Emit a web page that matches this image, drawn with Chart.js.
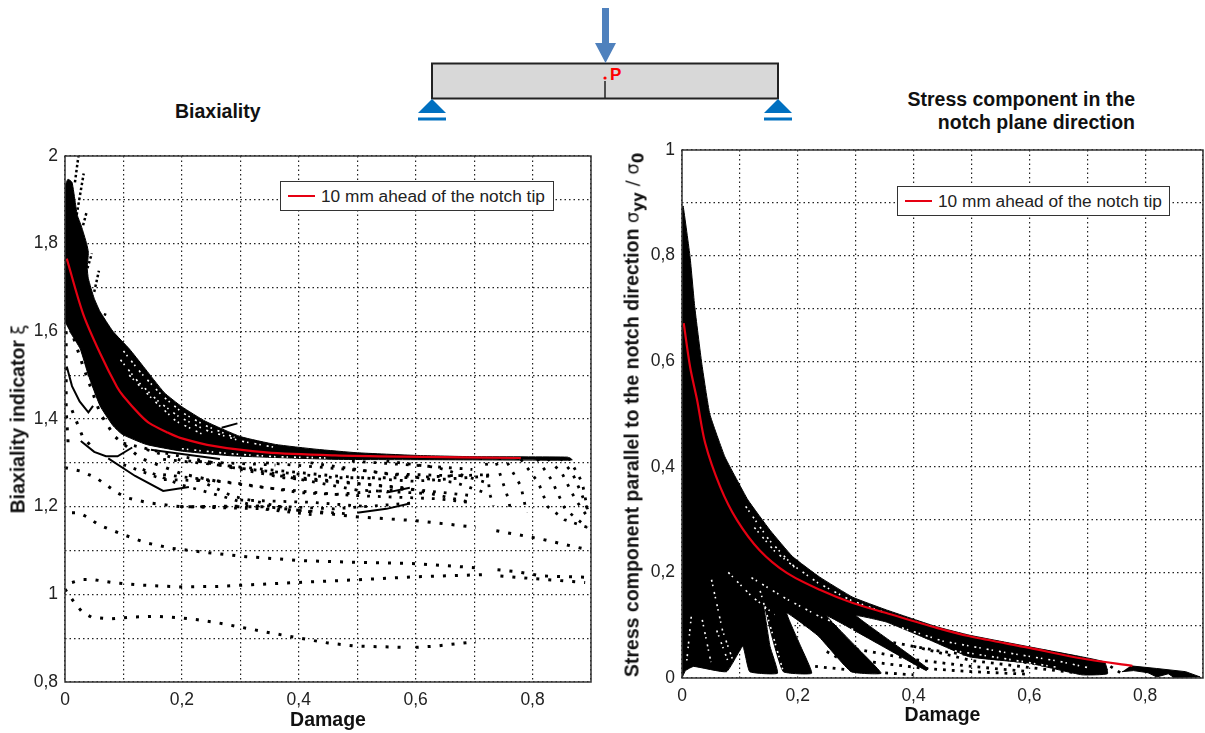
<!DOCTYPE html>
<html>
<head>
<meta charset="utf-8">
<style>
  body { margin: 0; background: #fff; font-family: "Liberation Sans", Arial, sans-serif; color: #111; }
  #page { position: relative; width: 1205px; height: 733px; overflow: hidden; }
  canvas, svg { position: absolute; }
  .head { position: absolute; font-weight: bold; font-size: 19.5px; white-space: nowrap; }
  .ytitle { position: absolute; font-weight: bold; font-size: 19.5px; white-space: nowrap; transform: translate(-50%, -50%) rotate(-90deg); }
  .ytitle .sym { font-weight: normal; font-family: "DejaVu Sans", sans-serif; font-size: 18px; }
  .ytitle sub { font-size: 15px; font-weight: bold; line-height: 0; }
  .legend { position: absolute; height: 28px; border: 1.5px solid #333; background: #fff; font-size: 17.3px; line-height: 28px; white-space: nowrap; color: #222; }
  .legend i { position: absolute; left: 7px; top: 13px; width: 27px; height: 2px; background: #e60012; }
  .legend span { position: absolute; left: 40px; top: 0; }
</style>
</head>
<body>
<div id="page">
  <svg width="1205" height="130" style="left:0;top:0">
    <rect x="432" y="63.5" width="346" height="35" fill="#d8d8d8" stroke="#222" stroke-width="2"/>
    <line x1="605" y1="81" x2="605" y2="98" stroke="#222" stroke-width="1.5"/>
    <polygon points="602,8 609,8 609,43 616,43 605.5,63 595,43 602,43" fill="#4f81bd"/>
    <circle cx="605" cy="78" r="1.6" fill="#f00"/>
    <text x="610" y="80" fill="#f00" font-size="17" font-weight="bold">P</text>
    <polygon points="432,99 446,113 418,113" fill="#0070c0"/>
    <rect x="418" y="117.5" width="28" height="3" fill="#0070c0"/>
    <polygon points="778,99 792,113 764,113" fill="#0070c0"/>
    <rect x="764" y="117.5" width="28" height="3" fill="#0070c0"/>
  </svg>
  <div class="head" style="left:175px;top:100px">Biaxiality</div>
  <div class="head" style="right:70px;top:88px;text-align:right;line-height:23px">Stress component in the<br>notch plane direction</div>

  <canvas id="biaxiality" width="600" height="593" style="left:0;top:140px"></canvas>
  <canvas id="stress" width="595" height="598" style="left:610px;top:135px"></canvas>

  <div class="ytitle" style="left:18px;top:419px">Biaxiality indicator <span class="sym">ξ</span></div>
  <div class="ytitle" style="left:632px;top:415px">Stress component parallel to the notch direction <span class="sym">σ<sub>yy</sub> / σ<sub>0</sub></span></div>
  <div class="legend" style="left:280px;top:181px;width:272px"><i></i><span>10 mm ahead of the notch tip</span></div>
  <div class="legend" style="left:897px;top:186px;width:271px"><i></i><span>10 mm ahead of the notch tip</span></div>
</div>

<script src="https://cdn.jsdelivr.net/npm/chart.js@4"></script>
<script>
// tick values and labels
const damageTicks = [0, 0.1, 0.2, 0.3, 0.4, 0.5, 0.6, 0.7, 0.8, 0.9];
const damageLabels = ['0', '', '0,2', '', '0,4', '', '0,6', '', '0,8', ''];
const biaxTicks = [0.8, 0.9, 1, 1.1, 1.2, 1.3, 1.4, 1.5, 1.6, 1.7, 1.8, 1.9, 2];
const biaxLabels = ['0,8', '', '1', '', '1,2', '', '1,4', '', '1,6', '', '1,8', '', '2'];
const stressTicks = [0, 0.1, 0.2, 0.3, 0.4, 0.5, 0.6, 0.7, 0.8, 0.9, 1];
const stressLabels = ['0', '', '0,2', '', '0,4', '', '0,6', '', '0,8', '', '1'];

const legendLabel = '10 mm ahead of the notch tip';

// left chart, [damage, biaxiality]
const biaxRed = [[0.003, 1.766], [0.031, 1.64], [0.06, 1.55], [0.089, 1.473], [0.1, 1.452], [0.128, 1.41], [0.145, 1.39],
  [0.174, 1.37], [0.197, 1.357], [0.256, 1.338], [0.344, 1.324], [0.462, 1.317], [0.58, 1.314], [0.78, 1.311]];

const biaxCloud = [[0, 1.62], [0, 1.93], [0.005, 1.947], [0.012, 1.94], [0.018, 1.89], [0.021, 1.865], [0.028, 1.84],
  [0.037, 1.8], [0.04, 1.78], [0.038, 1.745], [0.04, 1.72], [0.05, 1.675], [0.06, 1.645], [0.082, 1.6], [0.11, 1.56],
  [0.134, 1.52], [0.17, 1.46], [0.2, 1.428], [0.24, 1.395], [0.3, 1.36], [0.36, 1.342], [0.43, 1.331], [0.5, 1.323],
  [0.6, 1.317], [0.7, 1.314], [0.86, 1.313], [0.868, 1.307], [0.86, 1.306], [0.638, 1.307], [0.462, 1.308],
  [0.286, 1.316], [0.198, 1.327], [0.139, 1.342], [0.098, 1.365], [0.082, 1.385], [0.06, 1.43], [0.04, 1.5],
  [0.026, 1.56], [0.008, 1.6]];

const biaxGaps = [
  [[0.1, 1.555], [0.13, 1.505], [0.165, 1.455], [0.2, 1.415], [0.24, 1.385], [0.29, 1.358]],
  [[0.095, 1.535], [0.125, 1.485], [0.16, 1.44], [0.195, 1.405], [0.24, 1.375], [0.3, 1.35], [0.36, 1.335]],
  [[0.11, 1.5], [0.15, 1.445], [0.19, 1.395], [0.24, 1.362]],
  [[0.2, 1.332], [0.28, 1.321], [0.36, 1.314], [0.45, 1.311]]
];

const biaxSolid = [
  [[0.003, 1.52], [0.012, 1.475], [0.025, 1.44], [0.04, 1.415], [0.048, 1.43]],
  [[0.027, 1.35], [0.05, 1.325], [0.07, 1.315], [0.09, 1.315], [0.115, 1.335]],
  [[0.074, 1.31], [0.12, 1.27], [0.168, 1.236], [0.212, 1.245]],
  [[0.147, 1.33], [0.2, 1.32], [0.265, 1.309]],
  [[0.268, 1.38], [0.295, 1.39]],
  [[0.55, 1.232], [0.59, 1.243]],
  [[0.5, 1.186], [0.55, 1.195], [0.59, 1.207]]
];

// sparse trails of dots
const biaxSparse = [
  [[0, 1.012], [0.0165, 0.98], [0.03, 0.959], [0.045, 0.948], [0.08, 0.944], [0.115, 0.948], [0.153, 0.95], [0.192, 0.947],
    [0.227, 0.942], [0.262, 0.935], [0.297, 0.926], [0.344, 0.914], [0.397, 0.901], [0.45, 0.889], [0.497, 0.882], [0.58, 0.879]],
  [[0.6, 0.879], [0.635, 0.882], [0.703, 0.892]],
  [[0.012, 1.027], [0.03, 1.034], [0.047, 1.034], [0.086, 1.026], [0.13, 1.021], [0.195, 1.017], [0.26, 1.018], [0.32, 1.022],
    [0.397, 1.027], [0.497, 1.033], [0.6, 1.04], [0.715, 1.045]],
  [[0.012, 1.186], [0.024, 1.186], [0.04, 1.175], [0.058, 1.158], [0.098, 1.137], [0.14, 1.117], [0.183, 1.105], [0.245, 1.095],
    [0.31, 1.086], [0.403, 1.077], [0.497, 1.073], [0.6, 1.07], [0.71, 1.06]],
  [[0.74, 1.056], [0.77, 1.052], [0.815, 1.042], [0.89, 1.039]],
  [[0.745, 1.042], [0.8, 1.036], [0.89, 1.027]],
  [[0, 1.289], [0.027, 1.281], [0.053, 1.266], [0.07, 1.25], [0.089, 1.232], [0.106, 1.22], [0.142, 1.209], [0.197, 1.2],
    [0.344, 1.2], [0.497, 1.177], [0.6, 1.168], [0.703, 1.153]],
  [[0.738, 1.145], [0.767, 1.138], [0.815, 1.126], [0.9, 1.1]],
  [[0.0085, 1.61], [0.031, 1.52], [0.06, 1.413], [0.085, 1.36], [0.13, 1.31], [0.2, 1.275], [0.27, 1.255]],
  [[0.002, 1.6], [0.002, 1.42], [0.006, 1.33]],
  [[0.012, 1.42], [0.03, 1.36], [0.05, 1.33]]
];

// dense dots in the lower fan
const biaxFan = [
  [[0.168, 1.308], [0.286, 1.292], [0.462, 1.27], [0.597, 1.258], [0.727, 1.27]],
  [[0.227, 1.304], [0.374, 1.266], [0.521, 1.25], [0.697, 1.225]],
  [[0.1, 1.345], [0.168, 1.323], [0.297, 1.289], [0.403, 1.266], [0.58, 1.243], [0.697, 1.209]],
  [[0.168, 1.273], [0.286, 1.255], [0.403, 1.232], [0.521, 1.224], [0.638, 1.218], [0.697, 1.209]],
  [[0.1, 1.296], [0.168, 1.262], [0.262, 1.258], [0.344, 1.243], [0.462, 1.228], [0.591, 1.241]],
  [[0.227, 1.262], [0.286, 1.224], [0.374, 1.198]],
  [[0.133, 1.285], [0.198, 1.25], [0.268, 1.224], [0.344, 1.194], [0.427, 1.181]],
  [[0.286, 1.289], [0.462, 1.266], [0.58, 1.266], [0.721, 1.273]],
  [[0.344, 1.3], [0.521, 1.281], [0.668, 1.255], [0.727, 1.228]],
  [[0.491, 1.304], [0.58, 1.296], [0.697, 1.285]],
  [[0.55, 1.304], [0.638, 1.289], [0.721, 1.255]],
  [[0.197, 1.2], [0.374, 1.194], [0.491, 1.183]],
  [[0.198, 1.2], [0.344, 1.202], [0.46, 1.195], [0.591, 1.208]],
  [[0.3, 1.215], [0.42, 1.21], [0.52, 1.2]],
  [[0.42, 1.3], [0.55, 1.275], [0.68, 1.27]],
  [[0.35, 1.275], [0.5, 1.238], [0.62, 1.23]],
  [[0.14, 1.33], [0.2, 1.305], [0.27, 1.3], [0.36, 1.295]],
  [[0.862, 1.311], [0.885, 1.255], [0.894, 1.194]],
  [[0.848, 1.31], [0.868, 1.277], [0.883, 1.232], [0.894, 1.194]],
  [[0.826, 1.309], [0.85, 1.277], [0.873, 1.217], [0.894, 1.177]],
  [[0.808, 1.309], [0.832, 1.262], [0.856, 1.194], [0.894, 1.152]],
  [[0.78, 1.308], [0.81, 1.255], [0.826, 1.2], [0.855, 1.17], [0.9, 1.15]],
  [[0.757, 1.3], [0.78, 1.247], [0.79, 1.186]],
  [[0.738, 1.3], [0.758, 1.22], [0.762, 1.195]],
  [[0.721, 1.3], [0.727, 1.228], [0.733, 1.202]]
];

const biaxSpikes = [
  [[0.017, 1.94], [0.023, 2]],
  [[0.02, 1.866], [0.032, 1.96]],
  [[0.031, 1.842], [0.037, 1.872]],
  [[0.036, 1.733], [0.046, 1.778]],
  [[0.05, 1.69], [0.058, 1.738]],
  [[0.065, 1.625], [0.07, 1.644]]
];

// right chart, [damage, stress]
const stressRed = [[0.003, 0.672], [0.014, 0.589], [0.026, 0.527], [0.04, 0.445], [0.066, 0.362], [0.095, 0.299], [0.134, 0.242],
  [0.181, 0.199], [0.238, 0.167], [0.295, 0.142], [0.353, 0.123], [0.44, 0.095], [0.497, 0.079], [0.6, 0.057], [0.691, 0.037], [0.778, 0.023]];

const stressCloud = [[0, 0.89], [0.002, 0.894], [0.014, 0.797], [0.022, 0.703], [0.034, 0.597], [0.048, 0.5], [0.074, 0.419],
  [0.095, 0.375], [0.114, 0.337], [0.152, 0.28], [0.191, 0.23], [0.238, 0.191], [0.295, 0.153], [0.353, 0.129], [0.44, 0.097],
  [0.497, 0.081], [0.6, 0.059], [0.691, 0.04], [0.73, 0.03], [0.735, 0.008], [0.691, 0.006], [0.6, 0.028], [0.497, 0.04],
  [0.428, 0.072], [0.353, 0.106], [0.301, 0.118], [0.36, 0.07], [0.425, 0.018], [0.422, 0.014], [0.34, 0.064], [0.25, 0.118],
  [0.3, 0.06], [0.344, 0.009], [0.292, 0.012], [0.235, 0.08], [0.181, 0.123], [0.205, 0.06], [0.224, 0.009], [0.175, 0.012],
  [0.155, 0.08], [0.14, 0.147], [0.152, 0.06], [0.165, 0.009], [0.117, 0.012], [0.105, 0.06], [0.077, 0.012], [0.02, 0.022], [0.006, 0.014], [0, 0]];

const stressTail = [[0.775, 0.023], [0.82, 0.018], [0.87, 0.012], [0.895, 0.002], [0.85, 0.001], [0.84, 0.008], [0.82, 0.002],
  [0.805, 0.01], [0.78, 0.014], [0.76, 0.012]];

const stressGaps = [
  [[0.11, 0.325], [0.15, 0.262], [0.19, 0.215], [0.235, 0.18], [0.29, 0.148], [0.35, 0.124]],
  [[0.125, 0.285], [0.16, 0.24], [0.2, 0.205]],
  [[0.12, 0.19], [0.18, 0.15], [0.24, 0.115], [0.3, 0.09]],
  [[0.08, 0.2], [0.12, 0.155], [0.16, 0.12]],
  [[0.38, 0.095], [0.45, 0.07], [0.55, 0.05], [0.65, 0.032], [0.7, 0.02]],
  [[0.45, 0.055], [0.55, 0.038], [0.65, 0.02]],
  [[0.051, 0.186], [0.07, 0.09], [0.094, 0.014]],
  [[0.135, 0.165], [0.175, 0.012]],
  [[0.016, 0.116], [0.008, 0.03]],
  [[0.035, 0.11], [0.05, 0.03]],
  [[0.06, 0.09], [0.08, 0.03]]
];

const stressDots = [
  [[0.35, 0.07], [0.45, 0.05], [0.55, 0.037], [0.65, 0.02], [0.72, 0.008]],
  [[0.3, 0.055], [0.4, 0.035], [0.5, 0.022], [0.6, 0.012]],
  [[0.33, 0.03], [0.42, 0.018], [0.5, 0.012], [0.6, 0.007]],
  [[0.23, 0.022], [0.32, 0.012], [0.4, 0.006]],
  [[0.4, 0.06], [0.5, 0.033], [0.6, 0.02], [0.68, 0.01]],
  [[0.74, 0.022], [0.76, 0.008]],
  [[0.72, 0.03], [0.74, 0.008]],
  [[0.25, 0.05], [0.3, 0.02]]
];

function xy(pts) {
  return pts.map(p => ({ x: p[0], y: p[1] }));
}

function line(pts, color, width, dash) {
  return { data: xy(pts), showLine: true, pointRadius: 0, borderColor: color, borderWidth: width, borderDash: dash || [], tension: 0, fill: false };
}

function shape(pts, tension) {
  return { data: xy(pts), showLine: true, pointRadius: 0, borderColor: '#000', borderWidth: 1, backgroundColor: '#000', fill: 'shape', tension: tension || 0 };
}

// box around the plot area: the axes only give left and bottom
const frame = {
  id: 'frame',
  afterDraw(chart) {
    const a = chart.chartArea, c = chart.ctx;
    c.save();
    c.strokeStyle = '#333';
    c.lineWidth = 1.5;
    c.strokeRect(a.left, a.top, a.width, a.height);
    c.restore();
  }
};

function axis(ticks, labels, min, max, extra) {
  return Object.assign({
    min: min,
    max: max,
    afterBuildTicks(s) { s.ticks = ticks.map(v => ({ value: v })); },
    ticks: {
      autoSkip: false,
      maxRotation: 0,
      color: '#222',
      font: { family: '"Liberation Sans"', size: 17.5 },
      callback(v) { return labels[ticks.findIndex(t => Math.abs(t - v) < 1e-6)]; }
    },
    grid: { color: '#222', lineWidth: 1.2, drawTicks: false },
    border: { display: false, dash: [1.5, 3] }
  }, extra);
}

function make(id, datasets, yTicks, yLabels, yMin, yMax, leftW, xH, pad, titleGap) {
  const x = axis(damageTicks, damageLabels, 0, 0.9, {
    type: 'linear',
    // scale adds its own side padding for the tick labels, drop it so the plot box lands where it should
    afterFit(s) { s.height = xH; s.paddingLeft = 0; s.paddingRight = 0; },
    title: { display: true, text: 'Damage', color: '#111', font: { family: '"Liberation Sans"', size: 19.5, weight: 'bold' }, padding: { top: 0, bottom: titleGap } }
  });
  x.ticks.padding = 8;
  const y = axis(yTicks, yLabels, yMin, yMax, {
    type: 'linear',
    afterFit(s) { s.width = leftW; s.paddingTop = 0; s.paddingBottom = 0; }
  });
  y.ticks.padding = 7;
  return new Chart(document.getElementById(id), {
    type: 'scatter',
    data: { datasets: datasets },
    options: {
      responsive: false,
      animation: false,
      layout: { padding: pad },
      plugins: { legend: { display: false }, tooltip: { enabled: false } },
      scales: { x: x, y: y }
    },
    plugins: [frame]
  });
}

// first dataset is drawn last, so red goes first
const biaxRedSet = Object.assign(line(biaxRed, '#e60012', 2.2), { label: legendLabel, tension: 0.3 });
const biaxSets = [biaxRedSet]
  .concat(biaxGaps.map(t => line(t, '#fff', 1.6, [2, 3, 1.5, 6])))
  .concat(biaxSolid.map(t => line(t, '#000', 2)))
  .concat(biaxSpikes.map(t => line(t, '#000', 2.5, [2.5, 2.5])))
  .concat(biaxSparse.map(t => line(t, '#000', 3, [3, 9])))
  .concat(biaxFan.map(t => line(t, '#000', 2.8, [2.8, 8])))
  .concat([shape(biaxCloud, 0.15)]);

const stressRedSet = Object.assign(line(stressRed, '#e60012', 2.2), { label: legendLabel, tension: 0.3 });
const stressSets = [stressRedSet]
  .concat(stressGaps.map(t => line(t, '#fff', 1.6, [2, 3, 1.5, 6])))
  .concat(stressDots.map(t => line(t, '#000', 2.8, [2.8, 6])))
  .concat([shape(stressCloud, 0.12), shape(stressTail)]);

make('biaxiality', biaxSets, biaxTicks, biaxLabels, 0.8, 2, 65, 51, { left: 0, right: 9, top: 16, bottom: 0 }, 1);
make('stress', stressSets, stressTicks, stressLabels, 0, 1, 72, 55, { left: 0, right: 2, top: 15, bottom: 0 }, 6);
</script>
</body>
</html>
